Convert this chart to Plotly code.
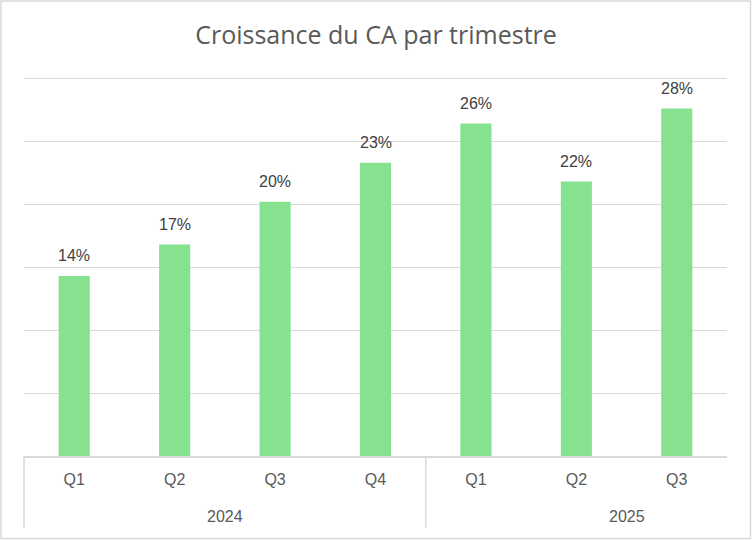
import plotly.graph_objects as go

years = ["2024", "2024", "2024", "2024", "2025", "2025", "2025"]
quarters = ["Q1", "Q2", "Q3", "Q4", "Q1", "Q2", "Q3"]
growth = [0.143, 0.168, 0.202, 0.233, 0.264, 0.218, 0.276]
title_text = "Croissance du CA par trimestre"

cats = [f"{q} {y}" for q, y in zip(quarters, years)]
n = len(cats)

fig = go.Figure(go.Bar(
    x=cats,
    y=growth,
    marker=dict(color="#86E28F", line=dict(width=0)),
    hoverinfo="x+y",
))

W, H = 752, 540
ml, mr, mt, mb = 24, 25, 72, 84
pw = W - ml - mr
ph = H - mt - mb

label_font = dict(family="Liberation Sans", size=16, color="#404040")
tick_font = dict(family="Liberation Sans", size=16, color="#595959")

fig.update_layout(
    width=W, height=H,
    margin=dict(l=ml, r=mr, t=mt, b=mb, autoexpand=False),
    paper_bgcolor="white", plot_bgcolor="white",
    bargap=0.69,
    showlegend=False,
    title=dict(text=title_text, x=0.5, xanchor="center", y=1 - 35 / H, yanchor="middle",
               font=dict(family="Open Sans", size=25, color="#595959")),
    xaxis=dict(
        type="category", automargin=False,
        tickvals=cats, ticktext=quarters,
        showline=True, linecolor="#D9D9D9", linewidth=1.5,
        ticks="", tickfont=tick_font, ticklabelstandoff=8,
        showgrid=False,
    ),
    yaxis=dict(
        range=[0, 0.305], dtick=0.05, showticklabels=False, automargin=False,
        showgrid=True, gridcolor="#D9D9D9", gridwidth=1.3,
        zeroline=False, ticks="",
    ),
)

annotations = []
for c, v in zip(cats, growth):
    annotations.append(dict(x=c, y=v, xref="x", yref="y", text=f"{v:.0%}",
                            showarrow=False, yanchor="middle", yshift=20, font=label_font))

# year group labels and dividers
groups = []
for i, y in enumerate(years):
    if not groups or groups[-1][0] != y:
        groups.append([y, i])
dy = 72 / ph
shapes = []
for y, start in groups:
    annotations.append(dict(x=(start + 2) / n, y=-(516 - 456) / ph, xref="paper", yref="paper",
                            text=y, showarrow=False, xanchor="center", yanchor="middle",
                            font=tick_font))
    shapes.append(dict(type="line", xref="paper", yref="paper", x0=start / n, x1=start / n,
                       y0=0, y1=-dy, line=dict(color="#D9D9D9", width=1.5)))
# outer chart border
shapes.append(dict(type="rect", xref="paper", yref="paper",
                   x0=-(ml - 1) / pw, x1=1 + (mr - 1.5) / pw,
                   y0=-(mb - 1.5) / ph, y1=1 + (mt - 1) / ph,
                   line=dict(color="#D9D9D9", width=1.5)))
fig.update_layout(shapes=shapes, annotations=annotations)

fig.write_html("out.html", config={"displayModeBar": False},
               post_script="document.body.style.margin='0';")
